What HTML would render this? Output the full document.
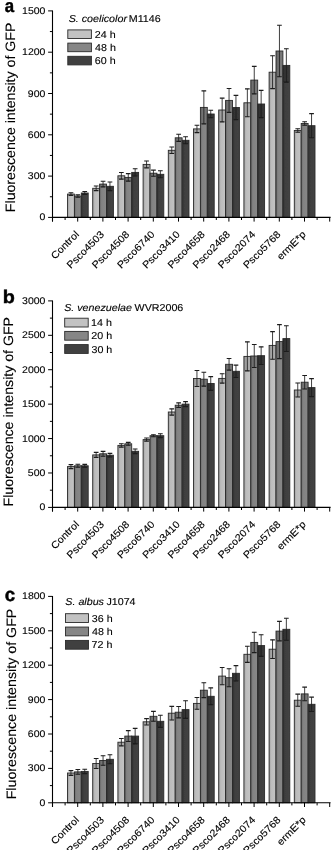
<!DOCTYPE html>
<html><head><meta charset="utf-8">
<style>
html,body{margin:0;padding:0;background:#fff;}
svg{display:block;}
text{font-family:"Liberation Sans",sans-serif;fill:#000;stroke:#000;stroke-width:0.12px;text-rendering:geometricPrecision;}
.fr{font-style:normal;font-weight:normal;}
.fi{font-style:italic;font-weight:normal;}
.fb{font-weight:bold;stroke-width:0.45px;}
</style></head>
<body>
<svg width="332" height="850" viewBox="0 0 332 850">
<defs><linearGradient id="g0" x1="0" x2="1" y1="0" y2="0"><stop offset="0" stop-color="#9c9c9c"/><stop offset="0.3" stop-color="#bcbcbc"/><stop offset="1" stop-color="#c4c4c4"/></linearGradient><linearGradient id="g1" x1="0" x2="1" y1="0" y2="0"><stop offset="0" stop-color="#6c6c6c"/><stop offset="0.3" stop-color="#828282"/><stop offset="1" stop-color="#888888"/></linearGradient><linearGradient id="g2" x1="0" x2="1" y1="0" y2="0"><stop offset="0" stop-color="#2e2e2e"/><stop offset="0.3" stop-color="#3e3e3e"/><stop offset="1" stop-color="#444444"/></linearGradient><filter id="bl" x="0" y="0" width="332" height="850" filterUnits="userSpaceOnUse"><feGaussianBlur stdDeviation="0.35"/></filter></defs>
<rect width="332" height="850" fill="#fff"/>
<g filter="url(#bl)">
<rect width="332" height="850" fill="#fff"/>
<rect x="67.50" y="194.10" width="6.90" height="23.30" fill="url(#g0)"/>
<rect x="67.50" y="194.10" width="6.90" height="1.30" fill="#000" fill-opacity="0.12"/>
<rect x="67.50" y="194.10" width="6.90" height="23.30" fill="none" stroke="#2a2a2a" stroke-width="0.9"/>
<rect x="74.40" y="196.10" width="6.90" height="21.30" fill="url(#g1)"/>
<rect x="74.40" y="196.10" width="6.90" height="1.20" fill="#000" fill-opacity="0.11"/>
<rect x="74.40" y="196.10" width="6.90" height="21.30" fill="none" stroke="#2a2a2a" stroke-width="0.9"/>
<rect x="81.30" y="193.00" width="6.90" height="24.40" fill="url(#g2)"/>
<rect x="81.30" y="193.00" width="6.90" height="1.50" fill="#000" fill-opacity="0.16"/>
<rect x="81.30" y="193.00" width="6.90" height="24.40" fill="none" stroke="#2a2a2a" stroke-width="0.9"/>
<rect x="92.70" y="188.30" width="6.90" height="29.10" fill="url(#g0)"/>
<rect x="92.70" y="188.30" width="6.90" height="2.30" fill="#000" fill-opacity="0.12"/>
<rect x="92.70" y="188.30" width="6.90" height="29.10" fill="none" stroke="#2a2a2a" stroke-width="0.9"/>
<rect x="99.60" y="184.10" width="6.90" height="33.30" fill="url(#g1)"/>
<rect x="99.60" y="184.10" width="6.90" height="2.80" fill="#000" fill-opacity="0.11"/>
<rect x="99.60" y="184.10" width="6.90" height="33.30" fill="none" stroke="#2a2a2a" stroke-width="0.9"/>
<rect x="106.50" y="186.30" width="6.90" height="31.10" fill="url(#g2)"/>
<rect x="106.50" y="186.30" width="6.90" height="4.30" fill="#000" fill-opacity="0.16"/>
<rect x="106.50" y="186.30" width="6.90" height="31.10" fill="none" stroke="#2a2a2a" stroke-width="0.9"/>
<rect x="117.90" y="175.80" width="6.90" height="41.60" fill="url(#g0)"/>
<rect x="117.90" y="175.80" width="6.90" height="3.30" fill="#000" fill-opacity="0.12"/>
<rect x="117.90" y="175.80" width="6.90" height="41.60" fill="none" stroke="#2a2a2a" stroke-width="0.9"/>
<rect x="124.80" y="177.40" width="6.90" height="40.00" fill="url(#g1)"/>
<rect x="124.80" y="177.40" width="6.90" height="3.75" fill="#000" fill-opacity="0.11"/>
<rect x="124.80" y="177.40" width="6.90" height="40.00" fill="none" stroke="#2a2a2a" stroke-width="0.9"/>
<rect x="131.70" y="172.40" width="6.90" height="45.00" fill="url(#g2)"/>
<rect x="131.70" y="172.40" width="6.90" height="3.65" fill="#000" fill-opacity="0.16"/>
<rect x="131.70" y="172.40" width="6.90" height="45.00" fill="none" stroke="#2a2a2a" stroke-width="0.9"/>
<rect x="143.10" y="164.40" width="6.90" height="53.00" fill="url(#g0)"/>
<rect x="143.10" y="164.40" width="6.90" height="3.45" fill="#000" fill-opacity="0.12"/>
<rect x="143.10" y="164.40" width="6.90" height="53.00" fill="none" stroke="#2a2a2a" stroke-width="0.9"/>
<rect x="150.00" y="173.20" width="6.90" height="44.20" fill="url(#g1)"/>
<rect x="150.00" y="173.20" width="6.90" height="3.10" fill="#000" fill-opacity="0.11"/>
<rect x="150.00" y="173.20" width="6.90" height="44.20" fill="none" stroke="#2a2a2a" stroke-width="0.9"/>
<rect x="156.90" y="174.30" width="6.90" height="43.10" fill="url(#g2)"/>
<rect x="156.90" y="174.30" width="6.90" height="3.50" fill="#000" fill-opacity="0.16"/>
<rect x="156.90" y="174.30" width="6.90" height="43.10" fill="none" stroke="#2a2a2a" stroke-width="0.9"/>
<rect x="168.30" y="150.30" width="6.90" height="67.10" fill="url(#g0)"/>
<rect x="168.30" y="150.30" width="6.90" height="3.25" fill="#000" fill-opacity="0.12"/>
<rect x="168.30" y="150.30" width="6.90" height="67.10" fill="none" stroke="#2a2a2a" stroke-width="0.9"/>
<rect x="175.20" y="137.80" width="6.90" height="79.60" fill="url(#g1)"/>
<rect x="175.20" y="137.80" width="6.90" height="3.60" fill="#000" fill-opacity="0.11"/>
<rect x="175.20" y="137.80" width="6.90" height="79.60" fill="none" stroke="#2a2a2a" stroke-width="0.9"/>
<rect x="182.10" y="140.30" width="6.90" height="77.10" fill="url(#g2)"/>
<rect x="182.10" y="140.30" width="6.90" height="3.50" fill="#000" fill-opacity="0.16"/>
<rect x="182.10" y="140.30" width="6.90" height="77.10" fill="none" stroke="#2a2a2a" stroke-width="0.9"/>
<rect x="193.50" y="128.90" width="6.90" height="88.50" fill="url(#g0)"/>
<rect x="193.50" y="128.90" width="6.90" height="3.70" fill="#000" fill-opacity="0.12"/>
<rect x="193.50" y="128.90" width="6.90" height="88.50" fill="none" stroke="#2a2a2a" stroke-width="0.9"/>
<rect x="200.40" y="107.40" width="6.90" height="110.00" fill="url(#g1)"/>
<rect x="200.40" y="107.40" width="6.90" height="16.50" fill="#000" fill-opacity="0.11"/>
<rect x="200.40" y="107.40" width="6.90" height="110.00" fill="none" stroke="#2a2a2a" stroke-width="0.9"/>
<rect x="207.30" y="114.00" width="6.90" height="103.40" fill="url(#g2)"/>
<rect x="207.30" y="114.00" width="6.90" height="3.75" fill="#000" fill-opacity="0.16"/>
<rect x="207.30" y="114.00" width="6.90" height="103.40" fill="none" stroke="#2a2a2a" stroke-width="0.9"/>
<rect x="218.70" y="110.00" width="6.90" height="107.40" fill="url(#g0)"/>
<rect x="218.70" y="110.00" width="6.90" height="11.90" fill="#000" fill-opacity="0.12"/>
<rect x="218.70" y="110.00" width="6.90" height="107.40" fill="none" stroke="#2a2a2a" stroke-width="0.9"/>
<rect x="225.60" y="100.40" width="6.90" height="117.00" fill="url(#g1)"/>
<rect x="225.60" y="100.40" width="6.90" height="11.95" fill="#000" fill-opacity="0.11"/>
<rect x="225.60" y="100.40" width="6.90" height="117.00" fill="none" stroke="#2a2a2a" stroke-width="0.9"/>
<rect x="232.50" y="107.50" width="6.90" height="109.90" fill="url(#g2)"/>
<rect x="232.50" y="107.50" width="6.90" height="12.15" fill="#000" fill-opacity="0.16"/>
<rect x="232.50" y="107.50" width="6.90" height="109.90" fill="none" stroke="#2a2a2a" stroke-width="0.9"/>
<rect x="243.90" y="102.80" width="6.90" height="114.60" fill="url(#g0)"/>
<rect x="243.90" y="102.80" width="6.90" height="13.95" fill="#000" fill-opacity="0.12"/>
<rect x="243.90" y="102.80" width="6.90" height="114.60" fill="none" stroke="#2a2a2a" stroke-width="0.9"/>
<rect x="250.80" y="80.10" width="6.90" height="137.30" fill="url(#g1)"/>
<rect x="250.80" y="80.10" width="6.90" height="13.75" fill="#000" fill-opacity="0.11"/>
<rect x="250.80" y="80.10" width="6.90" height="137.30" fill="none" stroke="#2a2a2a" stroke-width="0.9"/>
<rect x="257.70" y="104.00" width="6.90" height="113.40" fill="url(#g2)"/>
<rect x="257.70" y="104.00" width="6.90" height="13.60" fill="#000" fill-opacity="0.16"/>
<rect x="257.70" y="104.00" width="6.90" height="113.40" fill="none" stroke="#2a2a2a" stroke-width="0.9"/>
<rect x="269.10" y="72.20" width="6.90" height="145.20" fill="url(#g0)"/>
<rect x="269.10" y="72.20" width="6.90" height="16.45" fill="#000" fill-opacity="0.12"/>
<rect x="269.10" y="72.20" width="6.90" height="145.20" fill="none" stroke="#2a2a2a" stroke-width="0.9"/>
<rect x="276.00" y="51.00" width="6.90" height="166.40" fill="url(#g1)"/>
<rect x="276.00" y="51.00" width="6.90" height="25.80" fill="#000" fill-opacity="0.11"/>
<rect x="276.00" y="51.00" width="6.90" height="166.40" fill="none" stroke="#2a2a2a" stroke-width="0.9"/>
<rect x="282.90" y="65.40" width="6.90" height="152.00" fill="url(#g2)"/>
<rect x="282.90" y="65.40" width="6.90" height="16.70" fill="#000" fill-opacity="0.16"/>
<rect x="282.90" y="65.40" width="6.90" height="152.00" fill="none" stroke="#2a2a2a" stroke-width="0.9"/>
<rect x="294.30" y="130.50" width="6.90" height="86.90" fill="url(#g0)"/>
<rect x="294.30" y="130.50" width="6.90" height="1.80" fill="#000" fill-opacity="0.12"/>
<rect x="294.30" y="130.50" width="6.90" height="86.90" fill="none" stroke="#2a2a2a" stroke-width="0.9"/>
<rect x="301.20" y="123.50" width="6.90" height="93.90" fill="url(#g1)"/>
<rect x="301.20" y="123.50" width="6.90" height="1.80" fill="#000" fill-opacity="0.11"/>
<rect x="301.20" y="123.50" width="6.90" height="93.90" fill="none" stroke="#2a2a2a" stroke-width="0.9"/>
<rect x="308.10" y="125.70" width="6.90" height="91.70" fill="url(#g2)"/>
<rect x="308.10" y="125.70" width="6.90" height="12.05" fill="#000" fill-opacity="0.16"/>
<rect x="308.10" y="125.70" width="6.90" height="91.70" fill="none" stroke="#2a2a2a" stroke-width="0.9"/>
<path d="M70.95 192.80V195.40" stroke="#1e1e1e" stroke-width="0.85" fill="none"/>
<path d="M68.60 192.80H73.30M68.60 195.40H73.30" stroke="#1a1a1a" stroke-width="1.1" fill="none"/>
<path d="M77.85 194.90V197.30" stroke="#1e1e1e" stroke-width="0.85" fill="none"/>
<path d="M75.50 194.90H80.20M75.50 197.30H80.20" stroke="#1a1a1a" stroke-width="1.1" fill="none"/>
<path d="M84.75 191.50V194.50" stroke="#1e1e1e" stroke-width="0.85" fill="none"/>
<path d="M82.40 191.50H87.10M82.40 194.50H87.10" stroke="#1a1a1a" stroke-width="1.1" fill="none"/>
<path d="M96.15 186.00V190.60" stroke="#1e1e1e" stroke-width="0.85" fill="none"/>
<path d="M93.80 186.00H98.50M93.80 190.60H98.50" stroke="#1a1a1a" stroke-width="1.1" fill="none"/>
<path d="M103.05 181.30V186.90" stroke="#1e1e1e" stroke-width="0.85" fill="none"/>
<path d="M100.70 181.30H105.40M100.70 186.90H105.40" stroke="#1a1a1a" stroke-width="1.1" fill="none"/>
<path d="M109.95 182.00V190.60" stroke="#1e1e1e" stroke-width="0.85" fill="none"/>
<path d="M107.60 182.00H112.30M107.60 190.60H112.30" stroke="#1a1a1a" stroke-width="1.1" fill="none"/>
<path d="M121.35 172.50V179.10" stroke="#1e1e1e" stroke-width="0.85" fill="none"/>
<path d="M119.00 172.50H123.70M119.00 179.10H123.70" stroke="#1a1a1a" stroke-width="1.1" fill="none"/>
<path d="M128.25 173.65V181.15" stroke="#1e1e1e" stroke-width="0.85" fill="none"/>
<path d="M125.90 173.65H130.60M125.90 181.15H130.60" stroke="#1a1a1a" stroke-width="1.1" fill="none"/>
<path d="M135.15 168.75V176.05" stroke="#1e1e1e" stroke-width="0.85" fill="none"/>
<path d="M132.80 168.75H137.50M132.80 176.05H137.50" stroke="#1a1a1a" stroke-width="1.1" fill="none"/>
<path d="M146.55 160.95V167.85" stroke="#1e1e1e" stroke-width="0.85" fill="none"/>
<path d="M144.20 160.95H148.90M144.20 167.85H148.90" stroke="#1a1a1a" stroke-width="1.1" fill="none"/>
<path d="M153.45 170.10V176.30" stroke="#1e1e1e" stroke-width="0.85" fill="none"/>
<path d="M151.10 170.10H155.80M151.10 176.30H155.80" stroke="#1a1a1a" stroke-width="1.1" fill="none"/>
<path d="M160.35 170.80V177.80" stroke="#1e1e1e" stroke-width="0.85" fill="none"/>
<path d="M158.00 170.80H162.70M158.00 177.80H162.70" stroke="#1a1a1a" stroke-width="1.1" fill="none"/>
<path d="M171.75 147.05V153.55" stroke="#1e1e1e" stroke-width="0.85" fill="none"/>
<path d="M169.40 147.05H174.10M169.40 153.55H174.10" stroke="#1a1a1a" stroke-width="1.1" fill="none"/>
<path d="M178.65 134.20V141.40" stroke="#1e1e1e" stroke-width="0.85" fill="none"/>
<path d="M176.30 134.20H181.00M176.30 141.40H181.00" stroke="#1a1a1a" stroke-width="1.1" fill="none"/>
<path d="M185.55 136.80V143.80" stroke="#1e1e1e" stroke-width="0.85" fill="none"/>
<path d="M183.20 136.80H187.90M183.20 143.80H187.90" stroke="#1a1a1a" stroke-width="1.1" fill="none"/>
<path d="M196.95 125.20V132.60" stroke="#1e1e1e" stroke-width="0.85" fill="none"/>
<path d="M194.60 125.20H199.30M194.60 132.60H199.30" stroke="#1a1a1a" stroke-width="1.1" fill="none"/>
<path d="M203.85 90.90V123.90" stroke="#1e1e1e" stroke-width="0.85" fill="none"/>
<path d="M201.50 90.90H206.20M201.50 123.90H206.20" stroke="#1a1a1a" stroke-width="1.1" fill="none"/>
<path d="M210.75 110.25V117.75" stroke="#1e1e1e" stroke-width="0.85" fill="none"/>
<path d="M208.40 110.25H213.10M208.40 117.75H213.10" stroke="#1a1a1a" stroke-width="1.1" fill="none"/>
<path d="M222.15 98.10V121.90" stroke="#1e1e1e" stroke-width="0.85" fill="none"/>
<path d="M219.80 98.10H224.50M219.80 121.90H224.50" stroke="#1a1a1a" stroke-width="1.1" fill="none"/>
<path d="M229.05 88.45V112.35" stroke="#1e1e1e" stroke-width="0.85" fill="none"/>
<path d="M226.70 88.45H231.40M226.70 112.35H231.40" stroke="#1a1a1a" stroke-width="1.1" fill="none"/>
<path d="M235.95 95.35V119.65" stroke="#1e1e1e" stroke-width="0.85" fill="none"/>
<path d="M233.60 95.35H238.30M233.60 119.65H238.30" stroke="#1a1a1a" stroke-width="1.1" fill="none"/>
<path d="M247.35 88.85V116.75" stroke="#1e1e1e" stroke-width="0.85" fill="none"/>
<path d="M245.00 88.85H249.70M245.00 116.75H249.70" stroke="#1a1a1a" stroke-width="1.1" fill="none"/>
<path d="M254.25 66.35V93.85" stroke="#1e1e1e" stroke-width="0.85" fill="none"/>
<path d="M251.90 66.35H256.60M251.90 93.85H256.60" stroke="#1a1a1a" stroke-width="1.1" fill="none"/>
<path d="M261.15 90.40V117.60" stroke="#1e1e1e" stroke-width="0.85" fill="none"/>
<path d="M258.80 90.40H263.50M258.80 117.60H263.50" stroke="#1a1a1a" stroke-width="1.1" fill="none"/>
<path d="M272.55 55.75V88.65" stroke="#1e1e1e" stroke-width="0.85" fill="none"/>
<path d="M270.20 55.75H274.90M270.20 88.65H274.90" stroke="#1a1a1a" stroke-width="1.1" fill="none"/>
<path d="M279.45 25.20V76.80" stroke="#1e1e1e" stroke-width="0.85" fill="none"/>
<path d="M277.10 25.20H281.80M277.10 76.80H281.80" stroke="#1a1a1a" stroke-width="1.1" fill="none"/>
<path d="M286.35 48.70V82.10" stroke="#1e1e1e" stroke-width="0.85" fill="none"/>
<path d="M284.00 48.70H288.70M284.00 82.10H288.70" stroke="#1a1a1a" stroke-width="1.1" fill="none"/>
<path d="M297.75 128.70V132.30" stroke="#1e1e1e" stroke-width="0.85" fill="none"/>
<path d="M295.40 128.70H300.10M295.40 132.30H300.10" stroke="#1a1a1a" stroke-width="1.1" fill="none"/>
<path d="M304.65 121.70V125.30" stroke="#1e1e1e" stroke-width="0.85" fill="none"/>
<path d="M302.30 121.70H307.00M302.30 125.30H307.00" stroke="#1a1a1a" stroke-width="1.1" fill="none"/>
<path d="M311.55 113.65V137.75" stroke="#1e1e1e" stroke-width="0.85" fill="none"/>
<path d="M309.20 113.65H313.90M309.20 137.75H313.90" stroke="#1a1a1a" stroke-width="1.1" fill="none"/>
<path d="M52.5 10.4V221.6M52.0 217.4H330.6" stroke="#000" stroke-width="1.1" fill="none"/>
<path d="M48.10 217.40H52.5M49.90 196.75H52.5M48.10 176.10H52.5M49.90 155.45H52.5M48.10 134.80H52.5M49.90 114.15H52.5M48.10 93.50H52.5M49.90 72.85H52.5M48.10 52.20H52.5M49.90 31.55H52.5M48.10 10.90H52.5M52.50 217.4V221.60M65.10 217.4V220.00M77.70 217.4V221.60M90.30 217.4V220.00M102.90 217.4V221.60M115.50 217.4V220.00M128.10 217.4V221.60M140.70 217.4V220.00M153.30 217.4V221.60M165.90 217.4V220.00M178.50 217.4V221.60M191.10 217.4V220.00M203.70 217.4V221.60M216.30 217.4V220.00M228.90 217.4V221.60M241.50 217.4V220.00M254.10 217.4V221.60M266.70 217.4V220.00M279.30 217.4V221.60M291.90 217.4V220.00M304.50 217.4V221.60M317.10 217.4V220.00M329.70 217.4V221.60" stroke="#000" stroke-width="1.0" fill="none"/>
<text x="39.56" y="220.40" class="fr" font-size="9.75" textLength="5.84" lengthAdjust="spacingAndGlyphs">0</text>
<text x="27.89" y="179.10" class="fr" font-size="9.75" textLength="17.52" lengthAdjust="spacingAndGlyphs">300</text>
<text x="27.89" y="137.80" class="fr" font-size="9.75" textLength="17.52" lengthAdjust="spacingAndGlyphs">600</text>
<text x="27.89" y="96.50" class="fr" font-size="9.75" textLength="17.52" lengthAdjust="spacingAndGlyphs">900</text>
<text x="22.05" y="55.20" class="fr" font-size="9.75" textLength="23.36" lengthAdjust="spacingAndGlyphs">1200</text>
<text x="22.05" y="13.90" class="fr" font-size="9.75" textLength="23.36" lengthAdjust="spacingAndGlyphs">1500</text>
<text x="-34.82" y="0" class="fr" font-size="10.0" textLength="34.82" lengthAdjust="spacingAndGlyphs" transform="translate(79.60 235.10) rotate(-45)">Control</text>
<text x="-48.04" y="0" class="fr" font-size="10.0" textLength="48.04" lengthAdjust="spacingAndGlyphs" transform="translate(104.80 235.10) rotate(-45)">Psco4503</text>
<text x="-48.04" y="0" class="fr" font-size="10.0" textLength="48.04" lengthAdjust="spacingAndGlyphs" transform="translate(130.00 235.10) rotate(-45)">Psco4508</text>
<text x="-48.04" y="0" class="fr" font-size="10.0" textLength="48.04" lengthAdjust="spacingAndGlyphs" transform="translate(155.20 235.10) rotate(-45)">Psco6740</text>
<text x="-48.04" y="0" class="fr" font-size="10.0" textLength="48.04" lengthAdjust="spacingAndGlyphs" transform="translate(180.40 235.10) rotate(-45)">Psco3410</text>
<text x="-48.04" y="0" class="fr" font-size="10.0" textLength="48.04" lengthAdjust="spacingAndGlyphs" transform="translate(205.60 235.10) rotate(-45)">Psco4658</text>
<text x="-48.04" y="0" class="fr" font-size="10.0" textLength="48.04" lengthAdjust="spacingAndGlyphs" transform="translate(230.80 235.10) rotate(-45)">Psco2468</text>
<text x="-48.04" y="0" class="fr" font-size="10.0" textLength="48.04" lengthAdjust="spacingAndGlyphs" transform="translate(256.00 235.10) rotate(-45)">Psco2074</text>
<text x="-48.04" y="0" class="fr" font-size="10.0" textLength="48.04" lengthAdjust="spacingAndGlyphs" transform="translate(281.20 235.10) rotate(-45)">Psco5768</text>
<text x="-36.01" y="0" class="fr" font-size="10.0" textLength="36.01" lengthAdjust="spacingAndGlyphs" transform="translate(306.40 235.10) rotate(-45)">ermE*p</text>
<text x="4.70" y="11.60" class="fb" font-size="18.4" textLength="9.34" lengthAdjust="spacingAndGlyphs">a</text>
<text x="-1.16" y="0" class="fr" font-size="13.6" textLength="189.53" lengthAdjust="spacingAndGlyphs" transform="translate(14.50 211.00) rotate(-90)">Fluorescence intensity of GFP</text>
<text x="68.70" y="21.60" class="fi" font-size="10.0" textLength="58.28" lengthAdjust="spacingAndGlyphs">S. coelicolor</text>
<text x="128.72" y="21.60" class="fr" font-size="10.0" textLength="31.92" lengthAdjust="spacingAndGlyphs">M1146</text>
<rect x="67.80" y="29.90" width="23.60" height="8.60" fill="#c2c2c2" stroke="#2a2a2a" stroke-width="0.9"/>
<text x="94.77" y="37.80" class="fr" font-size="10.0" textLength="20.83" lengthAdjust="spacingAndGlyphs">24 h</text>
<rect x="67.80" y="43.10" width="23.60" height="8.60" fill="#868686" stroke="#2a2a2a" stroke-width="0.9"/>
<text x="95.06" y="51.00" class="fr" font-size="10.0" textLength="20.83" lengthAdjust="spacingAndGlyphs">48 h</text>
<rect x="67.80" y="56.30" width="23.60" height="8.60" fill="#414141" stroke="#2a2a2a" stroke-width="0.9"/>
<text x="94.77" y="64.20" class="fr" font-size="10.0" textLength="20.83" lengthAdjust="spacingAndGlyphs">60 h</text>
<rect x="67.50" y="466.60" width="6.90" height="40.80" fill="url(#g0)"/>
<rect x="67.50" y="466.60" width="6.90" height="2.00" fill="#000" fill-opacity="0.12"/>
<rect x="67.50" y="466.60" width="6.90" height="40.80" fill="none" stroke="#2a2a2a" stroke-width="0.9"/>
<rect x="74.40" y="465.80" width="6.90" height="41.60" fill="url(#g1)"/>
<rect x="74.40" y="465.80" width="6.90" height="1.50" fill="#000" fill-opacity="0.11"/>
<rect x="74.40" y="465.80" width="6.90" height="41.60" fill="none" stroke="#2a2a2a" stroke-width="0.9"/>
<rect x="81.30" y="465.80" width="6.90" height="41.60" fill="url(#g2)"/>
<rect x="81.30" y="465.80" width="6.90" height="1.40" fill="#000" fill-opacity="0.16"/>
<rect x="81.30" y="465.80" width="6.90" height="41.60" fill="none" stroke="#2a2a2a" stroke-width="0.9"/>
<rect x="92.70" y="454.90" width="6.90" height="52.50" fill="url(#g0)"/>
<rect x="92.70" y="454.90" width="6.90" height="2.50" fill="#000" fill-opacity="0.12"/>
<rect x="92.70" y="454.90" width="6.90" height="52.50" fill="none" stroke="#2a2a2a" stroke-width="0.9"/>
<rect x="99.60" y="453.80" width="6.90" height="53.60" fill="url(#g1)"/>
<rect x="99.60" y="453.80" width="6.90" height="2.40" fill="#000" fill-opacity="0.11"/>
<rect x="99.60" y="453.80" width="6.90" height="53.60" fill="none" stroke="#2a2a2a" stroke-width="0.9"/>
<rect x="106.50" y="455.20" width="6.90" height="52.20" fill="url(#g2)"/>
<rect x="106.50" y="455.20" width="6.90" height="1.80" fill="#000" fill-opacity="0.16"/>
<rect x="106.50" y="455.20" width="6.90" height="52.20" fill="none" stroke="#2a2a2a" stroke-width="0.9"/>
<rect x="117.90" y="445.40" width="6.90" height="62.00" fill="url(#g0)"/>
<rect x="117.90" y="445.40" width="6.90" height="1.70" fill="#000" fill-opacity="0.12"/>
<rect x="117.90" y="445.40" width="6.90" height="62.00" fill="none" stroke="#2a2a2a" stroke-width="0.9"/>
<rect x="124.80" y="443.80" width="6.90" height="63.60" fill="url(#g1)"/>
<rect x="124.80" y="443.80" width="6.90" height="1.45" fill="#000" fill-opacity="0.11"/>
<rect x="124.80" y="443.80" width="6.90" height="63.60" fill="none" stroke="#2a2a2a" stroke-width="0.9"/>
<rect x="131.70" y="451.30" width="6.90" height="56.10" fill="url(#g2)"/>
<rect x="131.70" y="451.30" width="6.90" height="2.35" fill="#000" fill-opacity="0.16"/>
<rect x="131.70" y="451.30" width="6.90" height="56.10" fill="none" stroke="#2a2a2a" stroke-width="0.9"/>
<rect x="143.10" y="439.60" width="6.90" height="67.80" fill="url(#g0)"/>
<rect x="143.10" y="439.60" width="6.90" height="1.55" fill="#000" fill-opacity="0.12"/>
<rect x="143.10" y="439.60" width="6.90" height="67.80" fill="none" stroke="#2a2a2a" stroke-width="0.9"/>
<rect x="150.00" y="435.70" width="6.90" height="71.70" fill="url(#g1)"/>
<rect x="150.00" y="435.70" width="6.90" height="1.00" fill="#000" fill-opacity="0.11"/>
<rect x="150.00" y="435.70" width="6.90" height="71.70" fill="none" stroke="#2a2a2a" stroke-width="0.9"/>
<rect x="156.90" y="435.70" width="6.90" height="71.70" fill="url(#g2)"/>
<rect x="156.90" y="435.70" width="6.90" height="1.95" fill="#000" fill-opacity="0.16"/>
<rect x="156.90" y="435.70" width="6.90" height="71.70" fill="none" stroke="#2a2a2a" stroke-width="0.9"/>
<rect x="168.30" y="412.00" width="6.90" height="95.40" fill="url(#g0)"/>
<rect x="168.30" y="412.00" width="6.90" height="3.10" fill="#000" fill-opacity="0.12"/>
<rect x="168.30" y="412.00" width="6.90" height="95.40" fill="none" stroke="#2a2a2a" stroke-width="0.9"/>
<rect x="175.20" y="405.20" width="6.90" height="102.20" fill="url(#g1)"/>
<rect x="175.20" y="405.20" width="6.90" height="2.35" fill="#000" fill-opacity="0.11"/>
<rect x="175.20" y="405.20" width="6.90" height="102.20" fill="none" stroke="#2a2a2a" stroke-width="0.9"/>
<rect x="182.10" y="404.10" width="6.90" height="103.30" fill="url(#g2)"/>
<rect x="182.10" y="404.10" width="6.90" height="2.50" fill="#000" fill-opacity="0.16"/>
<rect x="182.10" y="404.10" width="6.90" height="103.30" fill="none" stroke="#2a2a2a" stroke-width="0.9"/>
<rect x="193.50" y="378.50" width="6.90" height="128.90" fill="url(#g0)"/>
<rect x="193.50" y="378.50" width="6.90" height="8.05" fill="#000" fill-opacity="0.12"/>
<rect x="193.50" y="378.50" width="6.90" height="128.90" fill="none" stroke="#2a2a2a" stroke-width="0.9"/>
<rect x="200.40" y="379.20" width="6.90" height="128.20" fill="url(#g1)"/>
<rect x="200.40" y="379.20" width="6.90" height="6.95" fill="#000" fill-opacity="0.11"/>
<rect x="200.40" y="379.20" width="6.90" height="128.20" fill="none" stroke="#2a2a2a" stroke-width="0.9"/>
<rect x="207.30" y="383.50" width="6.90" height="123.90" fill="url(#g2)"/>
<rect x="207.30" y="383.50" width="6.90" height="6.90" fill="#000" fill-opacity="0.16"/>
<rect x="207.30" y="383.50" width="6.90" height="123.90" fill="none" stroke="#2a2a2a" stroke-width="0.9"/>
<rect x="218.70" y="378.40" width="6.90" height="129.00" fill="url(#g0)"/>
<rect x="218.70" y="378.40" width="6.90" height="4.70" fill="#000" fill-opacity="0.12"/>
<rect x="218.70" y="378.40" width="6.90" height="129.00" fill="none" stroke="#2a2a2a" stroke-width="0.9"/>
<rect x="225.60" y="364.30" width="6.90" height="143.10" fill="url(#g1)"/>
<rect x="225.60" y="364.30" width="6.90" height="5.80" fill="#000" fill-opacity="0.11"/>
<rect x="225.60" y="364.30" width="6.90" height="143.10" fill="none" stroke="#2a2a2a" stroke-width="0.9"/>
<rect x="232.50" y="371.30" width="6.90" height="136.10" fill="url(#g2)"/>
<rect x="232.50" y="371.30" width="6.90" height="6.20" fill="#000" fill-opacity="0.16"/>
<rect x="232.50" y="371.30" width="6.90" height="136.10" fill="none" stroke="#2a2a2a" stroke-width="0.9"/>
<rect x="243.90" y="356.40" width="6.90" height="151.00" fill="url(#g0)"/>
<rect x="243.90" y="356.40" width="6.90" height="14.50" fill="#000" fill-opacity="0.12"/>
<rect x="243.90" y="356.40" width="6.90" height="151.00" fill="none" stroke="#2a2a2a" stroke-width="0.9"/>
<rect x="250.80" y="356.00" width="6.90" height="151.40" fill="url(#g1)"/>
<rect x="250.80" y="356.00" width="6.90" height="11.50" fill="#000" fill-opacity="0.11"/>
<rect x="250.80" y="356.00" width="6.90" height="151.40" fill="none" stroke="#2a2a2a" stroke-width="0.9"/>
<rect x="257.70" y="355.70" width="6.90" height="151.70" fill="url(#g2)"/>
<rect x="257.70" y="355.70" width="6.90" height="8.85" fill="#000" fill-opacity="0.16"/>
<rect x="257.70" y="355.70" width="6.90" height="151.70" fill="none" stroke="#2a2a2a" stroke-width="0.9"/>
<rect x="269.10" y="345.40" width="6.90" height="162.00" fill="url(#g0)"/>
<rect x="269.10" y="345.40" width="6.90" height="13.80" fill="#000" fill-opacity="0.12"/>
<rect x="269.10" y="345.40" width="6.90" height="162.00" fill="none" stroke="#2a2a2a" stroke-width="0.9"/>
<rect x="276.00" y="341.60" width="6.90" height="165.80" fill="url(#g1)"/>
<rect x="276.00" y="341.60" width="6.90" height="17.00" fill="#000" fill-opacity="0.11"/>
<rect x="276.00" y="341.60" width="6.90" height="165.80" fill="none" stroke="#2a2a2a" stroke-width="0.9"/>
<rect x="282.90" y="338.60" width="6.90" height="168.80" fill="url(#g2)"/>
<rect x="282.90" y="338.60" width="6.90" height="12.85" fill="#000" fill-opacity="0.16"/>
<rect x="282.90" y="338.60" width="6.90" height="168.80" fill="none" stroke="#2a2a2a" stroke-width="0.9"/>
<rect x="294.30" y="390.00" width="6.90" height="117.40" fill="url(#g0)"/>
<rect x="294.30" y="390.00" width="6.90" height="7.00" fill="#000" fill-opacity="0.12"/>
<rect x="294.30" y="390.00" width="6.90" height="117.40" fill="none" stroke="#2a2a2a" stroke-width="0.9"/>
<rect x="301.20" y="382.20" width="6.90" height="125.20" fill="url(#g1)"/>
<rect x="301.20" y="382.20" width="6.90" height="6.75" fill="#000" fill-opacity="0.11"/>
<rect x="301.20" y="382.20" width="6.90" height="125.20" fill="none" stroke="#2a2a2a" stroke-width="0.9"/>
<rect x="308.10" y="387.60" width="6.90" height="119.80" fill="url(#g2)"/>
<rect x="308.10" y="387.60" width="6.90" height="9.00" fill="#000" fill-opacity="0.16"/>
<rect x="308.10" y="387.60" width="6.90" height="119.80" fill="none" stroke="#2a2a2a" stroke-width="0.9"/>
<path d="M70.95 464.60V468.60" stroke="#1e1e1e" stroke-width="0.85" fill="none"/>
<path d="M68.60 464.60H73.30M68.60 468.60H73.30" stroke="#1a1a1a" stroke-width="1.1" fill="none"/>
<path d="M77.85 464.30V467.30" stroke="#1e1e1e" stroke-width="0.85" fill="none"/>
<path d="M75.50 464.30H80.20M75.50 467.30H80.20" stroke="#1a1a1a" stroke-width="1.1" fill="none"/>
<path d="M84.75 464.40V467.20" stroke="#1e1e1e" stroke-width="0.85" fill="none"/>
<path d="M82.40 464.40H87.10M82.40 467.20H87.10" stroke="#1a1a1a" stroke-width="1.1" fill="none"/>
<path d="M96.15 452.40V457.40" stroke="#1e1e1e" stroke-width="0.85" fill="none"/>
<path d="M93.80 452.40H98.50M93.80 457.40H98.50" stroke="#1a1a1a" stroke-width="1.1" fill="none"/>
<path d="M103.05 451.40V456.20" stroke="#1e1e1e" stroke-width="0.85" fill="none"/>
<path d="M100.70 451.40H105.40M100.70 456.20H105.40" stroke="#1a1a1a" stroke-width="1.1" fill="none"/>
<path d="M109.95 453.40V457.00" stroke="#1e1e1e" stroke-width="0.85" fill="none"/>
<path d="M107.60 453.40H112.30M107.60 457.00H112.30" stroke="#1a1a1a" stroke-width="1.1" fill="none"/>
<path d="M121.35 443.70V447.10" stroke="#1e1e1e" stroke-width="0.85" fill="none"/>
<path d="M119.00 443.70H123.70M119.00 447.10H123.70" stroke="#1a1a1a" stroke-width="1.1" fill="none"/>
<path d="M128.25 442.35V445.25" stroke="#1e1e1e" stroke-width="0.85" fill="none"/>
<path d="M125.90 442.35H130.60M125.90 445.25H130.60" stroke="#1a1a1a" stroke-width="1.1" fill="none"/>
<path d="M135.15 448.95V453.65" stroke="#1e1e1e" stroke-width="0.85" fill="none"/>
<path d="M132.80 448.95H137.50M132.80 453.65H137.50" stroke="#1a1a1a" stroke-width="1.1" fill="none"/>
<path d="M146.55 438.05V441.15" stroke="#1e1e1e" stroke-width="0.85" fill="none"/>
<path d="M144.20 438.05H148.90M144.20 441.15H148.90" stroke="#1a1a1a" stroke-width="1.1" fill="none"/>
<path d="M153.45 434.70V436.70" stroke="#1e1e1e" stroke-width="0.85" fill="none"/>
<path d="M151.10 434.70H155.80M151.10 436.70H155.80" stroke="#1a1a1a" stroke-width="1.1" fill="none"/>
<path d="M160.35 433.75V437.65" stroke="#1e1e1e" stroke-width="0.85" fill="none"/>
<path d="M158.00 433.75H162.70M158.00 437.65H162.70" stroke="#1a1a1a" stroke-width="1.1" fill="none"/>
<path d="M171.75 408.90V415.10" stroke="#1e1e1e" stroke-width="0.85" fill="none"/>
<path d="M169.40 408.90H174.10M169.40 415.10H174.10" stroke="#1a1a1a" stroke-width="1.1" fill="none"/>
<path d="M178.65 402.85V407.55" stroke="#1e1e1e" stroke-width="0.85" fill="none"/>
<path d="M176.30 402.85H181.00M176.30 407.55H181.00" stroke="#1a1a1a" stroke-width="1.1" fill="none"/>
<path d="M185.55 401.60V406.60" stroke="#1e1e1e" stroke-width="0.85" fill="none"/>
<path d="M183.20 401.60H187.90M183.20 406.60H187.90" stroke="#1a1a1a" stroke-width="1.1" fill="none"/>
<path d="M196.95 370.45V386.55" stroke="#1e1e1e" stroke-width="0.85" fill="none"/>
<path d="M194.60 370.45H199.30M194.60 386.55H199.30" stroke="#1a1a1a" stroke-width="1.1" fill="none"/>
<path d="M203.85 372.25V386.15" stroke="#1e1e1e" stroke-width="0.85" fill="none"/>
<path d="M201.50 372.25H206.20M201.50 386.15H206.20" stroke="#1a1a1a" stroke-width="1.1" fill="none"/>
<path d="M210.75 376.60V390.40" stroke="#1e1e1e" stroke-width="0.85" fill="none"/>
<path d="M208.40 376.60H213.10M208.40 390.40H213.10" stroke="#1a1a1a" stroke-width="1.1" fill="none"/>
<path d="M222.15 373.70V383.10" stroke="#1e1e1e" stroke-width="0.85" fill="none"/>
<path d="M219.80 373.70H224.50M219.80 383.10H224.50" stroke="#1a1a1a" stroke-width="1.1" fill="none"/>
<path d="M229.05 358.50V370.10" stroke="#1e1e1e" stroke-width="0.85" fill="none"/>
<path d="M226.70 358.50H231.40M226.70 370.10H231.40" stroke="#1a1a1a" stroke-width="1.1" fill="none"/>
<path d="M235.95 365.10V377.50" stroke="#1e1e1e" stroke-width="0.85" fill="none"/>
<path d="M233.60 365.10H238.30M233.60 377.50H238.30" stroke="#1a1a1a" stroke-width="1.1" fill="none"/>
<path d="M247.35 341.90V370.90" stroke="#1e1e1e" stroke-width="0.85" fill="none"/>
<path d="M245.00 341.90H249.70M245.00 370.90H249.70" stroke="#1a1a1a" stroke-width="1.1" fill="none"/>
<path d="M254.25 344.50V367.50" stroke="#1e1e1e" stroke-width="0.85" fill="none"/>
<path d="M251.90 344.50H256.60M251.90 367.50H256.60" stroke="#1a1a1a" stroke-width="1.1" fill="none"/>
<path d="M261.15 346.85V364.55" stroke="#1e1e1e" stroke-width="0.85" fill="none"/>
<path d="M258.80 346.85H263.50M258.80 364.55H263.50" stroke="#1a1a1a" stroke-width="1.1" fill="none"/>
<path d="M272.55 331.60V359.20" stroke="#1e1e1e" stroke-width="0.85" fill="none"/>
<path d="M270.20 331.60H274.90M270.20 359.20H274.90" stroke="#1a1a1a" stroke-width="1.1" fill="none"/>
<path d="M279.45 324.60V358.60" stroke="#1e1e1e" stroke-width="0.85" fill="none"/>
<path d="M277.10 324.60H281.80M277.10 358.60H281.80" stroke="#1a1a1a" stroke-width="1.1" fill="none"/>
<path d="M286.35 325.75V351.45" stroke="#1e1e1e" stroke-width="0.85" fill="none"/>
<path d="M284.00 325.75H288.70M284.00 351.45H288.70" stroke="#1a1a1a" stroke-width="1.1" fill="none"/>
<path d="M297.75 383.00V397.00" stroke="#1e1e1e" stroke-width="0.85" fill="none"/>
<path d="M295.40 383.00H300.10M295.40 397.00H300.10" stroke="#1a1a1a" stroke-width="1.1" fill="none"/>
<path d="M304.65 375.45V388.95" stroke="#1e1e1e" stroke-width="0.85" fill="none"/>
<path d="M302.30 375.45H307.00M302.30 388.95H307.00" stroke="#1a1a1a" stroke-width="1.1" fill="none"/>
<path d="M311.55 378.60V396.60" stroke="#1e1e1e" stroke-width="0.85" fill="none"/>
<path d="M309.20 378.60H313.90M309.20 396.60H313.90" stroke="#1a1a1a" stroke-width="1.1" fill="none"/>
<path d="M52.5 300.4V511.59999999999997M52.0 507.4H330.6" stroke="#000" stroke-width="1.1" fill="none"/>
<path d="M48.10 507.40H52.5M49.90 490.19H52.5M48.10 472.98H52.5M49.90 455.77H52.5M48.10 438.57H52.5M49.90 421.36H52.5M48.10 404.15H52.5M49.90 386.94H52.5M48.10 369.73H52.5M49.90 352.53H52.5M48.10 335.32H52.5M49.90 318.11H52.5M48.10 300.90H52.5M52.50 507.4V511.60M65.10 507.4V510.00M77.70 507.4V511.60M90.30 507.4V510.00M102.90 507.4V511.60M115.50 507.4V510.00M128.10 507.4V511.60M140.70 507.4V510.00M153.30 507.4V511.60M165.90 507.4V510.00M178.50 507.4V511.60M191.10 507.4V510.00M203.70 507.4V511.60M216.30 507.4V510.00M228.90 507.4V511.60M241.50 507.4V510.00M254.10 507.4V511.60M266.70 507.4V510.00M279.30 507.4V511.60M291.90 507.4V510.00M304.50 507.4V511.60M317.10 507.4V510.00M329.70 507.4V511.60" stroke="#000" stroke-width="1.0" fill="none"/>
<text x="39.56" y="510.40" class="fr" font-size="9.75" textLength="5.84" lengthAdjust="spacingAndGlyphs">0</text>
<text x="27.89" y="475.98" class="fr" font-size="9.75" textLength="17.52" lengthAdjust="spacingAndGlyphs">500</text>
<text x="22.05" y="441.57" class="fr" font-size="9.75" textLength="23.36" lengthAdjust="spacingAndGlyphs">1000</text>
<text x="22.05" y="407.15" class="fr" font-size="9.75" textLength="23.36" lengthAdjust="spacingAndGlyphs">1500</text>
<text x="22.05" y="372.73" class="fr" font-size="9.75" textLength="23.36" lengthAdjust="spacingAndGlyphs">2000</text>
<text x="22.05" y="338.32" class="fr" font-size="9.75" textLength="23.36" lengthAdjust="spacingAndGlyphs">2500</text>
<text x="22.05" y="303.90" class="fr" font-size="9.75" textLength="23.36" lengthAdjust="spacingAndGlyphs">3000</text>
<text x="-34.82" y="0" class="fr" font-size="10.0" textLength="34.82" lengthAdjust="spacingAndGlyphs" transform="translate(79.60 525.10) rotate(-45)">Control</text>
<text x="-48.04" y="0" class="fr" font-size="10.0" textLength="48.04" lengthAdjust="spacingAndGlyphs" transform="translate(104.80 525.10) rotate(-45)">Psco4503</text>
<text x="-48.04" y="0" class="fr" font-size="10.0" textLength="48.04" lengthAdjust="spacingAndGlyphs" transform="translate(130.00 525.10) rotate(-45)">Psco4508</text>
<text x="-48.04" y="0" class="fr" font-size="10.0" textLength="48.04" lengthAdjust="spacingAndGlyphs" transform="translate(155.20 525.10) rotate(-45)">Psco6740</text>
<text x="-48.04" y="0" class="fr" font-size="10.0" textLength="48.04" lengthAdjust="spacingAndGlyphs" transform="translate(180.40 525.10) rotate(-45)">Psco3410</text>
<text x="-48.04" y="0" class="fr" font-size="10.0" textLength="48.04" lengthAdjust="spacingAndGlyphs" transform="translate(205.60 525.10) rotate(-45)">Psco4658</text>
<text x="-48.04" y="0" class="fr" font-size="10.0" textLength="48.04" lengthAdjust="spacingAndGlyphs" transform="translate(230.80 525.10) rotate(-45)">Psco2468</text>
<text x="-48.04" y="0" class="fr" font-size="10.0" textLength="48.04" lengthAdjust="spacingAndGlyphs" transform="translate(256.00 525.10) rotate(-45)">Psco2074</text>
<text x="-48.04" y="0" class="fr" font-size="10.0" textLength="48.04" lengthAdjust="spacingAndGlyphs" transform="translate(281.20 525.10) rotate(-45)">Psco5768</text>
<text x="-36.01" y="0" class="fr" font-size="10.0" textLength="36.01" lengthAdjust="spacingAndGlyphs" transform="translate(306.40 525.10) rotate(-45)">ermE*p</text>
<text x="2.89" y="302.60" class="fb" font-size="18.2" textLength="12.09" lengthAdjust="spacingAndGlyphs">b</text>
<text x="-1.16" y="0" class="fr" font-size="13.6" textLength="189.53" lengthAdjust="spacingAndGlyphs" transform="translate(12.50 505.30) rotate(-90)">Fluorescence intensity of GFP</text>
<text x="64.20" y="311.30" class="fi" font-size="10.0" textLength="67.82" lengthAdjust="spacingAndGlyphs">S. venezuelae</text>
<text x="134.56" y="311.30" class="fr" font-size="10.0" textLength="48.77" lengthAdjust="spacingAndGlyphs">WVR2006</text>
<rect x="64.70" y="318.20" width="23.50" height="8.80" fill="#c2c2c2" stroke="#2a2a2a" stroke-width="0.9"/>
<text x="91.09" y="326.10" class="fr" font-size="10.0" textLength="20.83" lengthAdjust="spacingAndGlyphs">14 h</text>
<rect x="64.70" y="331.40" width="23.50" height="8.80" fill="#868686" stroke="#2a2a2a" stroke-width="0.9"/>
<text x="91.37" y="339.30" class="fr" font-size="10.0" textLength="20.83" lengthAdjust="spacingAndGlyphs">20 h</text>
<rect x="64.70" y="344.60" width="23.50" height="8.80" fill="#414141" stroke="#2a2a2a" stroke-width="0.9"/>
<text x="91.49" y="352.50" class="fr" font-size="10.0" textLength="20.83" lengthAdjust="spacingAndGlyphs">30 h</text>
<rect x="67.50" y="773.00" width="6.90" height="29.80" fill="url(#g0)"/>
<rect x="67.50" y="773.00" width="6.90" height="2.35" fill="#000" fill-opacity="0.12"/>
<rect x="67.50" y="773.00" width="6.90" height="29.80" fill="none" stroke="#2a2a2a" stroke-width="0.9"/>
<rect x="74.40" y="771.90" width="6.90" height="30.90" fill="url(#g1)"/>
<rect x="74.40" y="771.90" width="6.90" height="2.35" fill="#000" fill-opacity="0.11"/>
<rect x="74.40" y="771.90" width="6.90" height="30.90" fill="none" stroke="#2a2a2a" stroke-width="0.9"/>
<rect x="81.30" y="771.40" width="6.90" height="31.40" fill="url(#g2)"/>
<rect x="81.30" y="771.40" width="6.90" height="2.20" fill="#000" fill-opacity="0.16"/>
<rect x="81.30" y="771.40" width="6.90" height="31.40" fill="none" stroke="#2a2a2a" stroke-width="0.9"/>
<rect x="92.70" y="763.50" width="6.90" height="39.30" fill="url(#g0)"/>
<rect x="92.70" y="763.50" width="6.90" height="5.00" fill="#000" fill-opacity="0.12"/>
<rect x="92.70" y="763.50" width="6.90" height="39.30" fill="none" stroke="#2a2a2a" stroke-width="0.9"/>
<rect x="99.60" y="760.50" width="6.90" height="42.30" fill="url(#g1)"/>
<rect x="99.60" y="760.50" width="6.90" height="4.80" fill="#000" fill-opacity="0.11"/>
<rect x="99.60" y="760.50" width="6.90" height="42.30" fill="none" stroke="#2a2a2a" stroke-width="0.9"/>
<rect x="106.50" y="759.30" width="6.90" height="43.50" fill="url(#g2)"/>
<rect x="106.50" y="759.30" width="6.90" height="4.50" fill="#000" fill-opacity="0.16"/>
<rect x="106.50" y="759.30" width="6.90" height="43.50" fill="none" stroke="#2a2a2a" stroke-width="0.9"/>
<rect x="117.90" y="742.20" width="6.90" height="60.60" fill="url(#g0)"/>
<rect x="117.90" y="742.20" width="6.90" height="3.65" fill="#000" fill-opacity="0.12"/>
<rect x="117.90" y="742.20" width="6.90" height="60.60" fill="none" stroke="#2a2a2a" stroke-width="0.9"/>
<rect x="124.80" y="736.10" width="6.90" height="66.70" fill="url(#g1)"/>
<rect x="124.80" y="736.10" width="6.90" height="5.45" fill="#000" fill-opacity="0.11"/>
<rect x="124.80" y="736.10" width="6.90" height="66.70" fill="none" stroke="#2a2a2a" stroke-width="0.9"/>
<rect x="131.70" y="736.10" width="6.90" height="66.70" fill="url(#g2)"/>
<rect x="131.70" y="736.10" width="6.90" height="7.75" fill="#000" fill-opacity="0.16"/>
<rect x="131.70" y="736.10" width="6.90" height="66.70" fill="none" stroke="#2a2a2a" stroke-width="0.9"/>
<rect x="143.10" y="721.80" width="6.90" height="81.00" fill="url(#g0)"/>
<rect x="143.10" y="721.80" width="6.90" height="3.15" fill="#000" fill-opacity="0.12"/>
<rect x="143.10" y="721.80" width="6.90" height="81.00" fill="none" stroke="#2a2a2a" stroke-width="0.9"/>
<rect x="150.00" y="716.30" width="6.90" height="86.50" fill="url(#g1)"/>
<rect x="150.00" y="716.30" width="6.90" height="4.95" fill="#000" fill-opacity="0.11"/>
<rect x="150.00" y="716.30" width="6.90" height="86.50" fill="none" stroke="#2a2a2a" stroke-width="0.9"/>
<rect x="156.90" y="721.30" width="6.90" height="81.50" fill="url(#g2)"/>
<rect x="156.90" y="721.30" width="6.90" height="6.05" fill="#000" fill-opacity="0.16"/>
<rect x="156.90" y="721.30" width="6.90" height="81.50" fill="none" stroke="#2a2a2a" stroke-width="0.9"/>
<rect x="168.30" y="713.20" width="6.90" height="89.60" fill="url(#g0)"/>
<rect x="168.30" y="713.20" width="6.90" height="6.85" fill="#000" fill-opacity="0.12"/>
<rect x="168.30" y="713.20" width="6.90" height="89.60" fill="none" stroke="#2a2a2a" stroke-width="0.9"/>
<rect x="175.20" y="712.20" width="6.90" height="90.60" fill="url(#g1)"/>
<rect x="175.20" y="712.20" width="6.90" height="5.65" fill="#000" fill-opacity="0.11"/>
<rect x="175.20" y="712.20" width="6.90" height="90.60" fill="none" stroke="#2a2a2a" stroke-width="0.9"/>
<rect x="182.10" y="709.60" width="6.90" height="93.20" fill="url(#g2)"/>
<rect x="182.10" y="709.60" width="6.90" height="8.80" fill="#000" fill-opacity="0.16"/>
<rect x="182.10" y="709.60" width="6.90" height="93.20" fill="none" stroke="#2a2a2a" stroke-width="0.9"/>
<rect x="193.50" y="703.40" width="6.90" height="99.40" fill="url(#g0)"/>
<rect x="193.50" y="703.40" width="6.90" height="5.85" fill="#000" fill-opacity="0.12"/>
<rect x="193.50" y="703.40" width="6.90" height="99.40" fill="none" stroke="#2a2a2a" stroke-width="0.9"/>
<rect x="200.40" y="690.20" width="6.90" height="112.60" fill="url(#g1)"/>
<rect x="200.40" y="690.20" width="6.90" height="7.45" fill="#000" fill-opacity="0.11"/>
<rect x="200.40" y="690.20" width="6.90" height="112.60" fill="none" stroke="#2a2a2a" stroke-width="0.9"/>
<rect x="207.30" y="696.30" width="6.90" height="106.50" fill="url(#g2)"/>
<rect x="207.30" y="696.30" width="6.90" height="8.45" fill="#000" fill-opacity="0.16"/>
<rect x="207.30" y="696.30" width="6.90" height="106.50" fill="none" stroke="#2a2a2a" stroke-width="0.9"/>
<rect x="218.70" y="676.10" width="6.90" height="126.70" fill="url(#g0)"/>
<rect x="218.70" y="676.10" width="6.90" height="8.60" fill="#000" fill-opacity="0.12"/>
<rect x="218.70" y="676.10" width="6.90" height="126.70" fill="none" stroke="#2a2a2a" stroke-width="0.9"/>
<rect x="225.60" y="677.70" width="6.90" height="125.10" fill="url(#g1)"/>
<rect x="225.60" y="677.70" width="6.90" height="9.00" fill="#000" fill-opacity="0.11"/>
<rect x="225.60" y="677.70" width="6.90" height="125.10" fill="none" stroke="#2a2a2a" stroke-width="0.9"/>
<rect x="232.50" y="673.30" width="6.90" height="129.50" fill="url(#g2)"/>
<rect x="232.50" y="673.30" width="6.90" height="7.65" fill="#000" fill-opacity="0.16"/>
<rect x="232.50" y="673.30" width="6.90" height="129.50" fill="none" stroke="#2a2a2a" stroke-width="0.9"/>
<rect x="243.90" y="654.30" width="6.90" height="148.50" fill="url(#g0)"/>
<rect x="243.90" y="654.30" width="6.90" height="8.10" fill="#000" fill-opacity="0.12"/>
<rect x="243.90" y="654.30" width="6.90" height="148.50" fill="none" stroke="#2a2a2a" stroke-width="0.9"/>
<rect x="250.80" y="642.40" width="6.90" height="160.40" fill="url(#g1)"/>
<rect x="250.80" y="642.40" width="6.90" height="10.20" fill="#000" fill-opacity="0.11"/>
<rect x="250.80" y="642.40" width="6.90" height="160.40" fill="none" stroke="#2a2a2a" stroke-width="0.9"/>
<rect x="257.70" y="645.60" width="6.90" height="157.20" fill="url(#g2)"/>
<rect x="257.70" y="645.60" width="6.90" height="10.80" fill="#000" fill-opacity="0.16"/>
<rect x="257.70" y="645.60" width="6.90" height="157.20" fill="none" stroke="#2a2a2a" stroke-width="0.9"/>
<rect x="269.10" y="649.20" width="6.90" height="153.60" fill="url(#g0)"/>
<rect x="269.10" y="649.20" width="6.90" height="9.35" fill="#000" fill-opacity="0.12"/>
<rect x="269.10" y="649.20" width="6.90" height="153.60" fill="none" stroke="#2a2a2a" stroke-width="0.9"/>
<rect x="276.00" y="631.10" width="6.90" height="171.70" fill="url(#g1)"/>
<rect x="276.00" y="631.10" width="6.90" height="9.75" fill="#000" fill-opacity="0.11"/>
<rect x="276.00" y="631.10" width="6.90" height="171.70" fill="none" stroke="#2a2a2a" stroke-width="0.9"/>
<rect x="282.90" y="629.30" width="6.90" height="173.50" fill="url(#g2)"/>
<rect x="282.90" y="629.30" width="6.90" height="11.00" fill="#000" fill-opacity="0.16"/>
<rect x="282.90" y="629.30" width="6.90" height="173.50" fill="none" stroke="#2a2a2a" stroke-width="0.9"/>
<rect x="294.30" y="700.20" width="6.90" height="102.60" fill="url(#g0)"/>
<rect x="294.30" y="700.20" width="6.90" height="6.05" fill="#000" fill-opacity="0.12"/>
<rect x="294.30" y="700.20" width="6.90" height="102.60" fill="none" stroke="#2a2a2a" stroke-width="0.9"/>
<rect x="301.20" y="693.90" width="6.90" height="108.90" fill="url(#g1)"/>
<rect x="301.20" y="693.90" width="6.90" height="6.80" fill="#000" fill-opacity="0.11"/>
<rect x="301.20" y="693.90" width="6.90" height="108.90" fill="none" stroke="#2a2a2a" stroke-width="0.9"/>
<rect x="308.10" y="704.30" width="6.90" height="98.50" fill="url(#g2)"/>
<rect x="308.10" y="704.30" width="6.90" height="7.20" fill="#000" fill-opacity="0.16"/>
<rect x="308.10" y="704.30" width="6.90" height="98.50" fill="none" stroke="#2a2a2a" stroke-width="0.9"/>
<path d="M70.95 770.65V775.35" stroke="#1e1e1e" stroke-width="0.85" fill="none"/>
<path d="M68.60 770.65H73.30M68.60 775.35H73.30" stroke="#1a1a1a" stroke-width="1.1" fill="none"/>
<path d="M77.85 769.55V774.25" stroke="#1e1e1e" stroke-width="0.85" fill="none"/>
<path d="M75.50 769.55H80.20M75.50 774.25H80.20" stroke="#1a1a1a" stroke-width="1.1" fill="none"/>
<path d="M84.75 769.20V773.60" stroke="#1e1e1e" stroke-width="0.85" fill="none"/>
<path d="M82.40 769.20H87.10M82.40 773.60H87.10" stroke="#1a1a1a" stroke-width="1.1" fill="none"/>
<path d="M96.15 758.50V768.50" stroke="#1e1e1e" stroke-width="0.85" fill="none"/>
<path d="M93.80 758.50H98.50M93.80 768.50H98.50" stroke="#1a1a1a" stroke-width="1.1" fill="none"/>
<path d="M103.05 755.70V765.30" stroke="#1e1e1e" stroke-width="0.85" fill="none"/>
<path d="M100.70 755.70H105.40M100.70 765.30H105.40" stroke="#1a1a1a" stroke-width="1.1" fill="none"/>
<path d="M109.95 754.80V763.80" stroke="#1e1e1e" stroke-width="0.85" fill="none"/>
<path d="M107.60 754.80H112.30M107.60 763.80H112.30" stroke="#1a1a1a" stroke-width="1.1" fill="none"/>
<path d="M121.35 738.55V745.85" stroke="#1e1e1e" stroke-width="0.85" fill="none"/>
<path d="M119.00 738.55H123.70M119.00 745.85H123.70" stroke="#1a1a1a" stroke-width="1.1" fill="none"/>
<path d="M128.25 730.65V741.55" stroke="#1e1e1e" stroke-width="0.85" fill="none"/>
<path d="M125.90 730.65H130.60M125.90 741.55H130.60" stroke="#1a1a1a" stroke-width="1.1" fill="none"/>
<path d="M135.15 728.35V743.85" stroke="#1e1e1e" stroke-width="0.85" fill="none"/>
<path d="M132.80 728.35H137.50M132.80 743.85H137.50" stroke="#1a1a1a" stroke-width="1.1" fill="none"/>
<path d="M146.55 718.65V724.95" stroke="#1e1e1e" stroke-width="0.85" fill="none"/>
<path d="M144.20 718.65H148.90M144.20 724.95H148.90" stroke="#1a1a1a" stroke-width="1.1" fill="none"/>
<path d="M153.45 711.35V721.25" stroke="#1e1e1e" stroke-width="0.85" fill="none"/>
<path d="M151.10 711.35H155.80M151.10 721.25H155.80" stroke="#1a1a1a" stroke-width="1.1" fill="none"/>
<path d="M160.35 715.25V727.35" stroke="#1e1e1e" stroke-width="0.85" fill="none"/>
<path d="M158.00 715.25H162.70M158.00 727.35H162.70" stroke="#1a1a1a" stroke-width="1.1" fill="none"/>
<path d="M171.75 706.35V720.05" stroke="#1e1e1e" stroke-width="0.85" fill="none"/>
<path d="M169.40 706.35H174.10M169.40 720.05H174.10" stroke="#1a1a1a" stroke-width="1.1" fill="none"/>
<path d="M178.65 706.55V717.85" stroke="#1e1e1e" stroke-width="0.85" fill="none"/>
<path d="M176.30 706.55H181.00M176.30 717.85H181.00" stroke="#1a1a1a" stroke-width="1.1" fill="none"/>
<path d="M185.55 700.80V718.40" stroke="#1e1e1e" stroke-width="0.85" fill="none"/>
<path d="M183.20 700.80H187.90M183.20 718.40H187.90" stroke="#1a1a1a" stroke-width="1.1" fill="none"/>
<path d="M196.95 697.55V709.25" stroke="#1e1e1e" stroke-width="0.85" fill="none"/>
<path d="M194.60 697.55H199.30M194.60 709.25H199.30" stroke="#1a1a1a" stroke-width="1.1" fill="none"/>
<path d="M203.85 682.75V697.65" stroke="#1e1e1e" stroke-width="0.85" fill="none"/>
<path d="M201.50 682.75H206.20M201.50 697.65H206.20" stroke="#1a1a1a" stroke-width="1.1" fill="none"/>
<path d="M210.75 687.85V704.75" stroke="#1e1e1e" stroke-width="0.85" fill="none"/>
<path d="M208.40 687.85H213.10M208.40 704.75H213.10" stroke="#1a1a1a" stroke-width="1.1" fill="none"/>
<path d="M222.15 667.50V684.70" stroke="#1e1e1e" stroke-width="0.85" fill="none"/>
<path d="M219.80 667.50H224.50M219.80 684.70H224.50" stroke="#1a1a1a" stroke-width="1.1" fill="none"/>
<path d="M229.05 668.70V686.70" stroke="#1e1e1e" stroke-width="0.85" fill="none"/>
<path d="M226.70 668.70H231.40M226.70 686.70H231.40" stroke="#1a1a1a" stroke-width="1.1" fill="none"/>
<path d="M235.95 665.65V680.95" stroke="#1e1e1e" stroke-width="0.85" fill="none"/>
<path d="M233.60 665.65H238.30M233.60 680.95H238.30" stroke="#1a1a1a" stroke-width="1.1" fill="none"/>
<path d="M247.35 646.20V662.40" stroke="#1e1e1e" stroke-width="0.85" fill="none"/>
<path d="M245.00 646.20H249.70M245.00 662.40H249.70" stroke="#1a1a1a" stroke-width="1.1" fill="none"/>
<path d="M254.25 632.20V652.60" stroke="#1e1e1e" stroke-width="0.85" fill="none"/>
<path d="M251.90 632.20H256.60M251.90 652.60H256.60" stroke="#1a1a1a" stroke-width="1.1" fill="none"/>
<path d="M261.15 634.80V656.40" stroke="#1e1e1e" stroke-width="0.85" fill="none"/>
<path d="M258.80 634.80H263.50M258.80 656.40H263.50" stroke="#1a1a1a" stroke-width="1.1" fill="none"/>
<path d="M272.55 639.85V658.55" stroke="#1e1e1e" stroke-width="0.85" fill="none"/>
<path d="M270.20 639.85H274.90M270.20 658.55H274.90" stroke="#1a1a1a" stroke-width="1.1" fill="none"/>
<path d="M279.45 621.35V640.85" stroke="#1e1e1e" stroke-width="0.85" fill="none"/>
<path d="M277.10 621.35H281.80M277.10 640.85H281.80" stroke="#1a1a1a" stroke-width="1.1" fill="none"/>
<path d="M286.35 618.30V640.30" stroke="#1e1e1e" stroke-width="0.85" fill="none"/>
<path d="M284.00 618.30H288.70M284.00 640.30H288.70" stroke="#1a1a1a" stroke-width="1.1" fill="none"/>
<path d="M297.75 694.15V706.25" stroke="#1e1e1e" stroke-width="0.85" fill="none"/>
<path d="M295.40 694.15H300.10M295.40 706.25H300.10" stroke="#1a1a1a" stroke-width="1.1" fill="none"/>
<path d="M304.65 687.10V700.70" stroke="#1e1e1e" stroke-width="0.85" fill="none"/>
<path d="M302.30 687.10H307.00M302.30 700.70H307.00" stroke="#1a1a1a" stroke-width="1.1" fill="none"/>
<path d="M311.55 697.10V711.50" stroke="#1e1e1e" stroke-width="0.85" fill="none"/>
<path d="M309.20 697.10H313.90M309.20 711.50H313.90" stroke="#1a1a1a" stroke-width="1.1" fill="none"/>
<path d="M52.5 595.9V807.0M52.0 802.8H330.6" stroke="#000" stroke-width="1.1" fill="none"/>
<path d="M48.10 802.80H52.5M49.90 785.60H52.5M48.10 768.40H52.5M49.90 751.20H52.5M48.10 734.00H52.5M49.90 716.80H52.5M48.10 699.60H52.5M49.90 682.40H52.5M48.10 665.20H52.5M49.90 648.00H52.5M48.10 630.80H52.5M49.90 613.60H52.5M48.10 596.40H52.5M52.50 802.8V807.00M65.10 802.8V805.40M77.70 802.8V807.00M90.30 802.8V805.40M102.90 802.8V807.00M115.50 802.8V805.40M128.10 802.8V807.00M140.70 802.8V805.40M153.30 802.8V807.00M165.90 802.8V805.40M178.50 802.8V807.00M191.10 802.8V805.40M203.70 802.8V807.00M216.30 802.8V805.40M228.90 802.8V807.00M241.50 802.8V805.40M254.10 802.8V807.00M266.70 802.8V805.40M279.30 802.8V807.00M291.90 802.8V805.40M304.50 802.8V807.00M317.10 802.8V805.40M329.70 802.8V807.00" stroke="#000" stroke-width="1.0" fill="none"/>
<text x="39.56" y="805.80" class="fr" font-size="9.75" textLength="5.84" lengthAdjust="spacingAndGlyphs">0</text>
<text x="27.89" y="771.40" class="fr" font-size="9.75" textLength="17.52" lengthAdjust="spacingAndGlyphs">300</text>
<text x="27.89" y="737.00" class="fr" font-size="9.75" textLength="17.52" lengthAdjust="spacingAndGlyphs">600</text>
<text x="27.89" y="702.60" class="fr" font-size="9.75" textLength="17.52" lengthAdjust="spacingAndGlyphs">900</text>
<text x="22.05" y="668.20" class="fr" font-size="9.75" textLength="23.36" lengthAdjust="spacingAndGlyphs">1200</text>
<text x="22.05" y="633.80" class="fr" font-size="9.75" textLength="23.36" lengthAdjust="spacingAndGlyphs">1500</text>
<text x="22.05" y="599.40" class="fr" font-size="9.75" textLength="23.36" lengthAdjust="spacingAndGlyphs">1800</text>
<text x="-34.82" y="0" class="fr" font-size="10.0" textLength="34.82" lengthAdjust="spacingAndGlyphs" transform="translate(79.60 820.50) rotate(-45)">Control</text>
<text x="-48.04" y="0" class="fr" font-size="10.0" textLength="48.04" lengthAdjust="spacingAndGlyphs" transform="translate(104.80 820.50) rotate(-45)">Psco4503</text>
<text x="-48.04" y="0" class="fr" font-size="10.0" textLength="48.04" lengthAdjust="spacingAndGlyphs" transform="translate(130.00 820.50) rotate(-45)">Psco4508</text>
<text x="-48.04" y="0" class="fr" font-size="10.0" textLength="48.04" lengthAdjust="spacingAndGlyphs" transform="translate(155.20 820.50) rotate(-45)">Psco6740</text>
<text x="-48.04" y="0" class="fr" font-size="10.0" textLength="48.04" lengthAdjust="spacingAndGlyphs" transform="translate(180.40 820.50) rotate(-45)">Psco3410</text>
<text x="-48.04" y="0" class="fr" font-size="10.0" textLength="48.04" lengthAdjust="spacingAndGlyphs" transform="translate(205.60 820.50) rotate(-45)">Psco4658</text>
<text x="-48.04" y="0" class="fr" font-size="10.0" textLength="48.04" lengthAdjust="spacingAndGlyphs" transform="translate(230.80 820.50) rotate(-45)">Psco2468</text>
<text x="-48.04" y="0" class="fr" font-size="10.0" textLength="48.04" lengthAdjust="spacingAndGlyphs" transform="translate(256.00 820.50) rotate(-45)">Psco2074</text>
<text x="-48.04" y="0" class="fr" font-size="10.0" textLength="48.04" lengthAdjust="spacingAndGlyphs" transform="translate(281.20 820.50) rotate(-45)">Psco5768</text>
<text x="-36.01" y="0" class="fr" font-size="10.0" textLength="36.01" lengthAdjust="spacingAndGlyphs" transform="translate(306.40 820.50) rotate(-45)">ermE*p</text>
<text x="4.75" y="600.70" class="fb" font-size="19.0" textLength="10.40" lengthAdjust="spacingAndGlyphs">c</text>
<text x="-1.17" y="0" class="fr" font-size="13.6" textLength="190.74" lengthAdjust="spacingAndGlyphs" transform="translate(16.00 798.20) rotate(-90)">Fluorescence intensity of GFP</text>
<text x="65.30" y="604.80" class="fi" font-size="10.0" textLength="38.66" lengthAdjust="spacingAndGlyphs">S. albus</text>
<text x="106.43" y="604.80" class="fr" font-size="10.0" textLength="29.15" lengthAdjust="spacingAndGlyphs">J1074</text>
<rect x="65.50" y="613.70" width="23.00" height="8.80" fill="#c2c2c2" stroke="#2a2a2a" stroke-width="0.9"/>
<text x="91.79" y="621.70" class="fr" font-size="10.0" textLength="20.83" lengthAdjust="spacingAndGlyphs">36 h</text>
<rect x="65.50" y="627.05" width="23.00" height="8.80" fill="#868686" stroke="#2a2a2a" stroke-width="0.9"/>
<text x="91.96" y="635.05" class="fr" font-size="10.0" textLength="20.83" lengthAdjust="spacingAndGlyphs">48 h</text>
<rect x="65.50" y="640.40" width="23.00" height="8.80" fill="#414141" stroke="#2a2a2a" stroke-width="0.9"/>
<text x="91.64" y="648.40" class="fr" font-size="10.0" textLength="20.83" lengthAdjust="spacingAndGlyphs">72 h</text>
</g>
</svg>
</body></html>
